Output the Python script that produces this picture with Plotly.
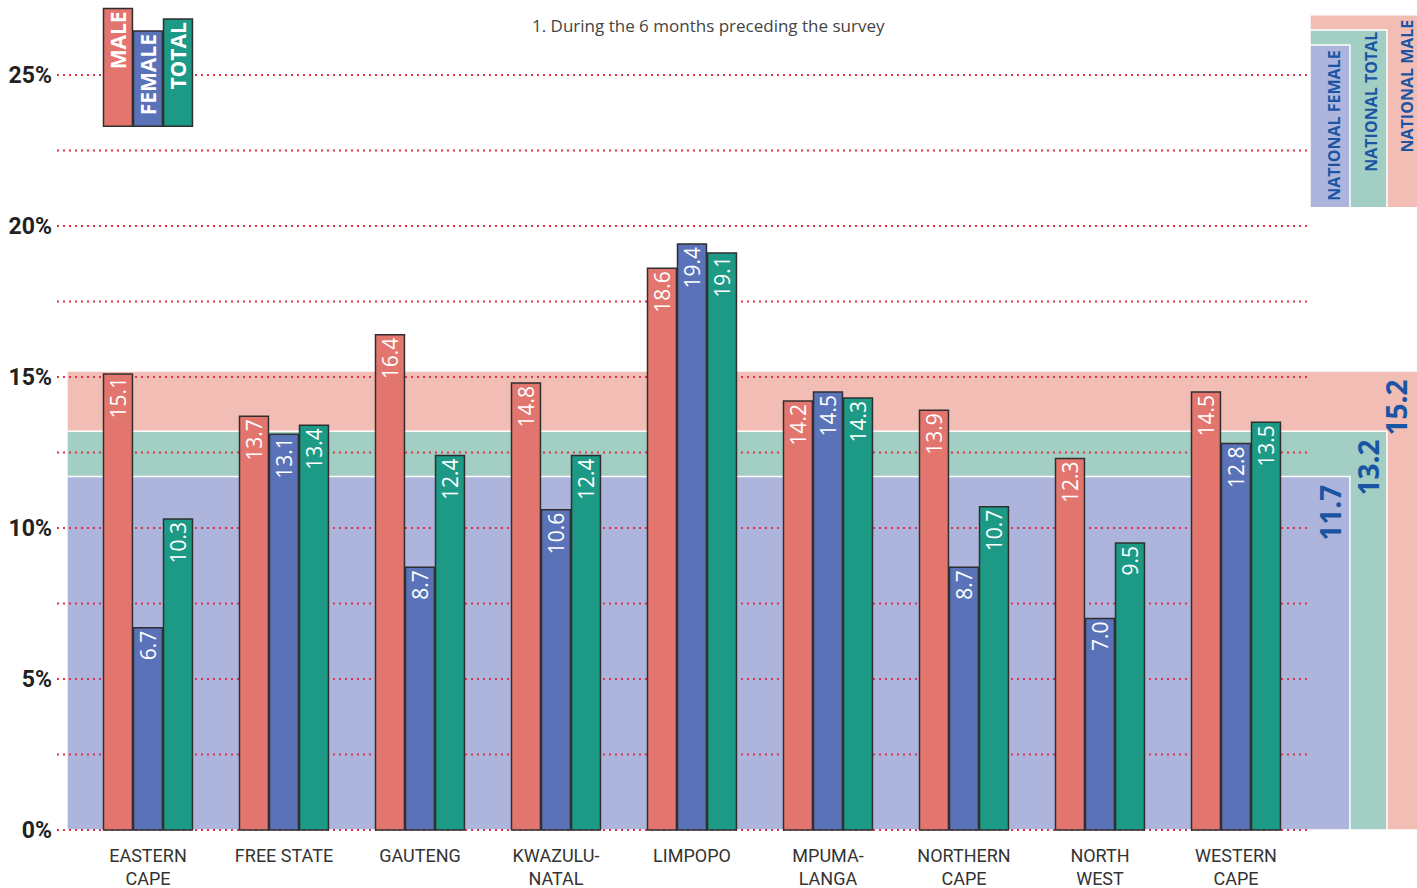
import plotly.graph_objects as go

categories = ["EASTERN<br>CAPE", "FREE STATE", "GAUTENG", "KWAZULU-<br>NATAL", "LIMPOPO",
              "MPUMA-<br>LANGA", "NORTHERN<br>CAPE", "NORTH<br>WEST", "WESTERN<br>CAPE"]
male = [15.1, 13.7, 16.4, 14.8, 18.6, 14.2, 13.9, 12.3, 14.5]
female = [6.7, 13.1, 8.7, 10.6, 19.4, 14.5, 8.7, 7.0, 12.8]
total = [10.3, 13.4, 12.4, 12.4, 19.1, 14.3, 10.7, 9.5, 13.5]
national = {"male": 15.2, "total": 13.2, "female": 11.7}
y_ticks = [0, 5, 10, 15, 20, 25]
y_ticktext = ["0%", "5%", "10%", "15%", "20%", "25%"]
grid_levels = [0, 2.5, 5, 7.5, 10, 12.5, 15, 17.5, 20, 22.5, 25]
legend_names = ["MALE", "FEMALE", "TOTAL"]
legend_base = 23.3
legend_tops = [27.2, 26.45, 26.85]
note = "1. During the 6 months preceding the survey"

C_MALE = "#E2756E"
C_FEMALE = "#5A72B8"
C_TOTAL = "#1D9A86"
B_MALE = "#F2BDB5"
B_TOTAL = "#A3CEC3"
B_FEMALE = "#ADB5DC"
NAT_TXT = "#1A55A5"
GRID = "#E0344C"

xs = list(range(len(categories)))

fig = go.Figure()
series = [("m", male, C_MALE), ("f", female, C_FEMALE), ("t", total, C_TOTAL)]
for key, vals, col in series:
    fig.add_trace(go.Bar(
        x=xs, y=vals, offsetgroup=key, marker=dict(color=col, line=dict(color="#2f2f2f", width=1.5)),
        text=[f"{v:.1f}" for v in vals], textposition="inside", insidetextanchor="end",
        textangle=-90, textfont=dict(color="white", size=21, family="Open Sans"),
        showlegend=False, hoverinfo="skip"))

# legend bars (top-left) in the Eastern Cape slots
for (key, _, col), name, top in zip(series, legend_names, legend_tops):
    fig.add_trace(go.Bar(
        x=[0], y=[top - legend_base], base=[legend_base], offsetgroup=key,
        marker=dict(color=col, line=dict(color="#2f2f2f", width=1.5)),
        text=[name], textposition="inside", insidetextanchor="end",
        textangle=-90, textfont=dict(color="white", size=21, family="Open Sans", weight="bold"),
        showlegend=False, hoverinfo="skip"))

# x positions (category units)
x_left = -0.669
grid_right = 8.522
band_left = -0.596
r_female = 8.838
r_total = 9.11
r_male = 9.34
leg_left = 8.544

shapes = []
for val, right, col in [(national["male"], r_male, B_MALE), (national["total"], r_total, B_TOTAL),
                        (national["female"], r_female, B_FEMALE)]:
    shapes.append(dict(type="rect", xref="x", yref="y", x0=band_left, x1=right, y0=0, y1=val,
                       fillcolor=col, line=dict(color="white", width=1.5), layer="below"))
# national legend boxes top-right
for top, right, col in [(26.99, r_male, B_MALE), (26.49, r_total, B_TOTAL), (25.99, r_female, B_FEMALE)]:
    shapes.append(dict(type="rect", xref="x", yref="y", x0=leg_left, x1=right, y0=20.6, y1=top,
                       fillcolor=col, line=dict(color="white", width=1.5), layer="below"))
for g in grid_levels:
    shapes.append(dict(type="line", xref="x", yref="y", x0=x_left, x1=grid_right, y0=g, y1=g,
                       line=dict(color=GRID, width=2, dash="2px,4px"), layer="below"))

annotations = [
    dict(text=note, xref="paper", yref="paper", x=(708 - 57) / 1360, y=(838 - 26) / 838,
         xanchor="center", yanchor="middle",
         showarrow=False, font=dict(size=17, color="#444", family="Open Sans")),
]
# national legend texts
for txt, xc, yc in [("NATIONAL FEMALE", 8.72, 23.31),
                    ("NATIONAL TOTAL", 8.99, 24.1),
                    ("NATIONAL MALE", 9.255, 24.64)]:
    annotations.append(dict(text=txt, x=xc, y=yc, xref="x", yref="y", showarrow=False,
                            textangle=-90,
                            font=dict(size=16, color=NAT_TXT, family="Open Sans", weight="bold")))
# national values
for val, xc in [(national["female"], 8.69), (national["total"], 8.97), (national["male"], 9.18)]:
    annotations.append(dict(text=f"{val:.1f}", x=xc, y=val - 1.2, xref="x", yref="y", showarrow=False,
                            textangle=-90,
                            font=dict(size=28, color=NAT_TXT, family="Open Sans", weight="bold")))

fig.update_layout(
    width=1417, height=888, margin=dict(l=57, r=0, t=0, b=50),
    plot_bgcolor="white", paper_bgcolor="white",
    barmode="group", bargap=0.338, bargroupgap=0.035,
    shapes=shapes, annotations=annotations,
    uniformtext=dict(minsize=21, mode="show"),
    xaxis=dict(range=[x_left, 9.331], tickvals=xs, ticktext=categories, showgrid=False,
               zeroline=False, showline=False, ticks="", fixedrange=True, ticklabelstandoff=5,
               automargin=False,
               tickfont=dict(size=18, color="#333", family="Roboto")),
    yaxis=dict(range=[-0.265, 27.48], tickvals=y_ticks, ticktext=y_ticktext, showgrid=False,
               zeroline=False, showline=False, ticks="", automargin=False, fixedrange=True,
               ticklabelstandoff=4,
               tickfont=dict(size=23, color="#222", family="Roboto", weight="bold")),
)

fig.write_html("out.html", config={"displayModeBar": False},
               post_script="document.body.style.margin='0';document.body.style.overflow='hidden';")
